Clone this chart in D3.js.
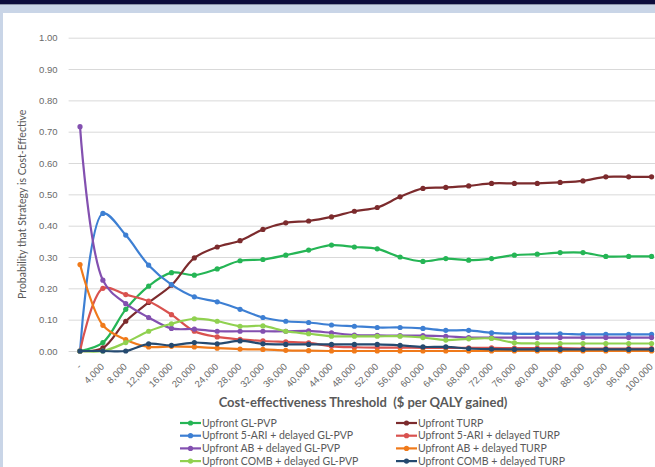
<!DOCTYPE html>
<html>
<head>
<meta charset="utf-8">
<script src="https://cdn.jsdelivr.net/npm/d3@7"></script>
<style>
  body { margin: 0; background: #c9d5e7; }
  svg { display: block; font-family: Lato, "Liberation Sans", sans-serif; }
</style>
</head>
<body>
<div id="chart"></div>
<script>
// thresholds ($ per QALY gained) and their axis labels
const thresholds = d3.range(0, 100001, 4000);
const tickLabels = thresholds.map(t => t === 0 ? "-" : d3.format(",")(t));

// probability each strategy is cost-effective
const glPvp      = [0, 0.027, 0.133, 0.207, 0.250, 0.242, 0.262, 0.288, 0.292, 0.306, 0.322, 0.338, 0.332, 0.326, 0.300, 0.286, 0.295, 0.290, 0.295, 0.306, 0.309, 0.314, 0.314, 0.302, 0.302, 0.302];
const turp       = [0, 0.010, 0.095, 0.155, 0.210, 0.297, 0.332, 0.352, 0.388, 0.409, 0.415, 0.428, 0.446, 0.458, 0.492, 0.519, 0.522, 0.527, 0.535, 0.535, 0.535, 0.538, 0.543, 0.556, 0.556, 0.556];
const ariGlPvp   = [0, 0.439, 0.370, 0.274, 0.212, 0.173, 0.157, 0.133, 0.107, 0.095, 0.091, 0.083, 0.079, 0.075, 0.075, 0.072, 0.066, 0.066, 0.058, 0.055, 0.055, 0.055, 0.053, 0.053, 0.053, 0.053];
const ariTurp    = [0, 0.200, 0.180, 0.159, 0.116, 0.063, 0.045, 0.037, 0.032, 0.029, 0.026, 0.015, 0.012, 0.011, 0.011, 0.010, 0.010, 0.010, 0.010, 0.009, 0.009, 0.009, 0.008, 0.008, 0.008, 0.008];
const abGlPvp    = [0.716, 0.226, 0.151, 0.107, 0.072, 0.070, 0.063, 0.063, 0.063, 0.063, 0.064, 0.058, 0.051, 0.050, 0.049, 0.049, 0.047, 0.043, 0.043, 0.043, 0.043, 0.043, 0.043, 0.043, 0.043, 0.043];
const abTurp     = [0.276, 0.082, 0.036, 0.013, 0.015, 0.013, 0.009, 0.006, 0.005, 0.002, 0.001, 0, 0, 0, 0, 0, 0, 0, 0, 0, 0, 0, 0, 0, 0, 0];
const combGlPvp  = [0, 0, 0.027, 0.063, 0.087, 0.103, 0.095, 0.079, 0.080, 0.063, 0.055, 0.047, 0.047, 0.047, 0.047, 0.043, 0.035, 0.039, 0.040, 0.026, 0.024, 0.024, 0.024, 0.024, 0.024, 0.024];
const combTurp   = [0, 0, 0, 0.023, 0.018, 0.027, 0.023, 0.032, 0.023, 0.021, 0.021, 0.021, 0.021, 0.021, 0.018, 0.013, 0.013, 0.008, 0.006, 0.005, 0.005, 0.005, 0.005, 0.005, 0.005, 0.005];

const seriesNames = [
  "Upfront GL-PVP", "Upfront TURP",
  "Upfront 5-ARI + delayed GL-PVP", "Upfront 5-ARI + delayed TURP",
  "Upfront AB + delayed GL-PVP", "Upfront AB + delayed TURP",
  "Upfront COMB + delayed GL-PVP", "Upfront COMB + delayed TURP"
];
const seriesValues = [glPvp, turp, ariGlPvp, ariTurp, abGlPvp, abTurp, combGlPvp, combTurp];
const seriesColors = ["#25b555", "#7c2b2d", "#3d7fd3", "#d9524f", "#8350b0", "#f07a1a", "#90d150", "#254a70"];
const yTicks = d3.range(0, 1.0001, 0.1);

const W = 655, H = 467;
const svg = d3.select("#chart").append("svg")
  .attr("width", W).attr("height", H);

// window frame: navy band on top, pale blue strip, white panel
svg.append("rect").attr("width", W).attr("height", H).attr("fill", "#c9d5e7");
svg.append("rect").attr("width", W).attr("height", 4).attr("fill", "#0c0c3c");
svg.append("rect").attr("y", 4).attr("width", W).attr("height", 1).attr("fill", "#8a93a8");
svg.append("rect").attr("x", 3).attr("y", 13).attr("width", W - 3).attr("height", H - 13).attr("fill", "#fff");

const plotLeft = 68.6, plotRight = 663, plotTop = 37.7, plotBottom = 351;
const step = (plotRight - plotLeft) / thresholds.length;

const x = d3.scalePoint()
  .domain(thresholds)
  .range([plotLeft + step / 2, plotRight - step / 2]);
const y = d3.scaleLinear()
  .domain([0, 1])
  .range([plotBottom, plotTop]);

// y axis with gridlines
const yAxis = d3.axisLeft(y)
  .tickValues(yTicks)
  .tickFormat(d3.format(".2f"))
  .tickSize(-(plotRight - plotLeft))
  .tickPadding(11);
const gy = svg.append("g")
  .attr("transform", `translate(${plotLeft},0)`)
  .call(yAxis);
gy.select(".domain").remove();
gy.selectAll("line").attr("stroke", "#d9d9d9");
gy.selectAll("text").attr("fill", "#6a6a6a").style("font-size", "9.5px");

// x axis, rotated labels
const xAxis = d3.axisBottom(x)
  .tickSize(0)
  .tickFormat((d, i) => tickLabels[i]);
const gx = svg.append("g")
  .attr("transform", `translate(0,${plotBottom})`)
  .call(xAxis);
gx.select(".domain").remove();
gx.selectAll("text")
  .attr("fill", "#6a6a6a")
  .style("font-size", "9.5px")
  .attr("text-anchor", "end")
  .attr("x", 0).attr("y", 0).attr("dy", "0.35em")
  .attr("transform", "translate(-1,14) rotate(-45)");

// axis titles
svg.append("text")
  .attr("transform", `translate(26,${(plotTop + plotBottom) / 2 + 10}) rotate(-90)`)
  .attr("text-anchor", "middle")
  .attr("fill", "#595959")
  .style("font-size", "10.5px")
  .text("Probability that Strategy is Cost-Effective");
svg.append("text")
  .attr("x", 363).attr("y", 407)
  .attr("text-anchor", "middle")
  .attr("fill", "#595959")
  .style("font-size", "13px")
  .style("font-weight", "bold")
  .style("white-space", "pre")
  .text("Cost-effectiveness Threshold  ($ per QALY gained)");

// series lines + markers
const line = d3.line()
  .x((d, i) => x(thresholds[i]))
  .y(d => y(d))
  .curve(d3.curveCatmullRom);

const series = svg.append("g").selectAll("g")
  .data(seriesValues)
  .join("g");
series.append("path")
  .attr("d", d => line(d))
  .attr("fill", "none")
  .attr("stroke", (d, i) => seriesColors[i])
  .attr("stroke-width", 2.2);
series.each(function (vals, si) {
  d3.select(this).selectAll("circle")
    .data(vals)
    .join("circle")
    .attr("cx", (d, i) => x(thresholds[i]))
    .attr("cy", d => y(d))
    .attr("r", 2.6)
    .attr("fill", seriesColors[si]);
});

// legend in two columns
const legend = svg.append("g").selectAll("g")
  .data(seriesNames)
  .join("g")
  .attr("transform", (d, i) => `translate(${i % 2 === 0 ? 180 : 396},${423 + Math.floor(i / 2) * 12.7})`);
legend.append("line")
  .attr("x1", 0).attr("x2", 21)
  .attr("stroke", (d, i) => seriesColors[i])
  .attr("stroke-width", 2.2);
legend.append("circle")
  .attr("cx", 10.5).attr("r", 2.6)
  .attr("fill", (d, i) => seriesColors[i]);
legend.append("text")
  .attr("x", 22).attr("dy", "0.35em")
  .attr("fill", "#595959")
  .style("font-size", "10.5px")
  .text(d => d);
</script>
</body>
</html>
